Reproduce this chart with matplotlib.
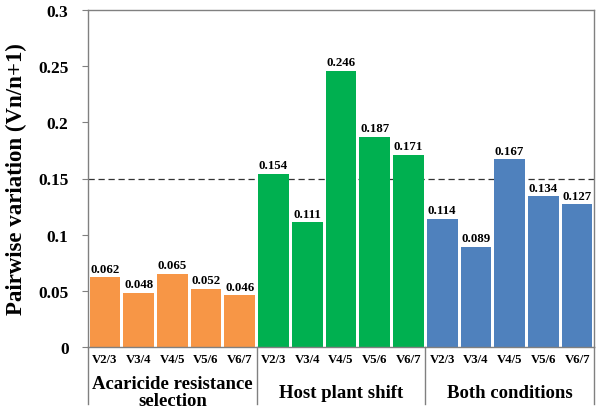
import matplotlib
matplotlib.use("Agg")
import matplotlib.pyplot as plt
import matplotlib.transforms as mtransforms

groups = ["Acaricide resistance\nselection", "Host plant shift", "Both conditions"]
pairs = ["V2/3", "V3/4", "V4/5", "V5/6", "V6/7"]
acaricide = [0.062, 0.048, 0.065, 0.052, 0.046]
host = [0.154, 0.111, 0.246, 0.187, 0.171]
both = [0.114, 0.089, 0.167, 0.134, 0.127]
colors = ["#F79646", "#00B050", "#4F81BD"]
yticks = [0, 0.05, 0.1, 0.15, 0.2, 0.25, 0.3]
ytick_labels = ["0", "0.05", "0.1", "0.15", "0.2", "0.25", "0.3"]
threshold = 0.15

plt.rcParams['font.family'] = ['Liberation Serif', 'DejaVu Serif']
plt.rcParams['font.weight'] = 'bold'

W, H = 605, 410
fig = plt.figure(figsize=(W / 100, H / 100), dpi=100)
ax = fig.add_axes([88 / W, (H - 348) / H, 506 / W, 337 / H])

series = [acaricide, host, both]
xs, labels = [], []
for gi, vals in enumerate(series):
    x = [gi * len(pairs) + i for i in range(len(pairs))]
    ax.bar(x, vals, width=0.91, color=colors[gi], zorder=2)
    for xi, v in zip(x, vals):
        ax.annotate(f"{v:.3f}", (xi, v), xytext=(0, 2), textcoords="offset points",
                    ha="center", va="bottom", fontsize=9.3, fontweight="bold")
    xs += x
    labels += pairs

ax.axhline(threshold, color="#333333", lw=0.9, ls=(0, (5, 3)), zorder=1)
ax.set_xlim(-0.5, 14.5)
ax.set_ylim(0, 0.3)
ax.set_yticks(yticks)
ax.set_yticklabels(ytick_labels, fontsize=12.5, fontweight="bold")
ax.set_xticks(xs)
ax.set_xticklabels(labels, fontsize=9.2, fontweight="bold")
ax.tick_params(axis="x", length=0, pad=4)
ax.tick_params(axis="y", length=4, width=0.8, color="#808080", pad=10)
for s in ax.spines.values():
    s.set_color("#808080")
    s.set_linewidth(1.0)

ax.set_ylabel("Pairwise variation (Vn/n+1)", fontsize=16.5, fontweight="bold", labelpad=8)

trans = mtransforms.blended_transform_factory(ax.transData, ax.transAxes)
for xb in [-0.5, 4.5, 9.5, 14.5]:
    ax.plot([xb, xb], [0, -0.17], transform=trans, color="#808080", lw=1.0, clip_on=False)
for gi, g in enumerate(groups):
    ax.text(gi * 5 + 2, -0.134, g, transform=trans, ha="center", va="center",
            fontsize=13.5, fontweight="bold", linespacing=1.0)

fig.savefig("out.png", dpi=100)
